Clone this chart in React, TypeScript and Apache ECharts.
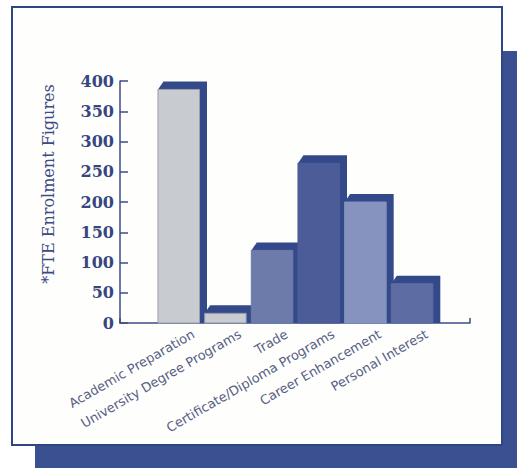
import React, { useEffect, useRef } from "react";
import * as echarts from "echarts";

// Program areas and their FTE enrolment counts
const categories: string[] = [
  "Academic Preparation",
  "University Degree Programs",
  "Trade",
  "Certificate/Diploma Programs",
  "Career Enhancement",
  "Personal Interest",
];
const enrolment: number[] = [386, 16, 120, 264, 200, 65];
const yTicks: number[] = [0, 50, 100, 150, 200, 250, 300, 350, 400];

// Front-face colours of each bar, plus the dark navy used for the extruded sides
const faceColors = ["#c8ccd0", "#c8ccd0", "#6c7baa", "#4b5c98", "#8593be", "#5d6da3"];
const faceStroke = ["#9aa0a8", "#8f96a6", "#6c7baa", "#4b5c98", "#8593be", "#5d6da3"];
const NAVY = "#34498a";

export default function App() {
  const ref = useRef<HTMLDivElement>(null);

  useEffect(() => {
    if (!ref.current) return;
    const chart = echarts.init(ref.current, null, { renderer: "svg" });

    const yMin = yTicks[0];
    const yMax = yTicks[yTicks.length - 1];
    const top = 81;
    const bottom = 145;

    const option: echarts.EChartsOption = {
      animation: false,
      backgroundColor: "#ffffff",
      graphic: [
        // drop shadow behind the framed panel
        { type: "rect", z: -10, shape: { x: 35, y: 51, width: 482, height: 417 }, style: { fill: "#3a5090" }, silent: true },
        // white panel with navy border
        { type: "rect", z: -9, shape: { x: 12, y: 7, width: 490, height: 438 }, style: { fill: "#fefefd", stroke: "#2f4584", lineWidth: 2 }, silent: true },
      ],
      grid: [
        // axis frame
        { left: 120, right: 47, top, bottom },
        // bars
        { left: 155.4, width: 280, top, bottom },
        // rotated category labels
        { left: 170, width: 280, top, bottom },
      ],
      xAxis: [
        {
          type: "value",
          gridIndex: 0,
          min: 0,
          max: 1,
          interval: 1,
          axisLine: { show: true, lineStyle: { color: "#3c4c86", width: 1.5 } },
          axisTick: { show: true, inside: true, length: 5, lineStyle: { color: "#3c4c86", width: 1.5 } },
          axisLabel: { show: false },
          splitLine: { show: false },
        },
        {
          type: "category",
          gridIndex: 1,
          data: categories,
          axisLine: { show: false },
          axisTick: { show: false },
          axisLabel: { show: false },
        },
        {
          type: "category",
          gridIndex: 2,
          data: categories,
          axisLine: { show: false },
          axisTick: { show: false },
          axisLabel: {
            rotate: 30,
            interval: 0,
            margin: 10,
            color: "#576084",
            fontFamily: "DejaVu Sans",
            fontSize: 13,
          },
        },
      ],
      yAxis: [
        {
          type: "value",
          gridIndex: 0,
          min: yMin,
          max: yMax,
          interval: 50,
          name: "*FTE Enrolment Figures",
          nameLocation: "middle",
          nameGap: 64,
          nameTextStyle: {
            color: "#3b4a82",
            fontFamily: "DejaVu Serif",
            fontSize: 16,
            padding: [0, 0, 0, 36],
          },
          axisLine: { show: true, lineStyle: { color: "#3c4c86", width: 1.5 } },
          axisTick: { show: true, inside: true, length: 8, lineStyle: { color: "#3c4c86", width: 1.5 } },
          axisLabel: { margin: 6, color: "#37467f", fontFamily: "DejaVu Serif", fontSize: 16, fontWeight: "bold" },
          splitLine: { show: false },
        },
        { type: "value", gridIndex: 1, min: yMin, max: yMax, show: false },
        { type: "value", gridIndex: 2, min: yMin, max: yMax, show: false },
      ],
      series: [
        {
          type: "custom",
          xAxisIndex: 1,
          yAxisIndex: 1,
          data: enrolment.map((v, i) => [i, v]),
          encode: { x: 0, y: 1 },
          renderItem: (params: any, api: any) => {
            const idx = api.value(0);
            const topPt = api.coord([idx, api.value(1)]);
            const basePt = api.coord([idx, 0]);
            const w = api.size([1, 0])[0] * 0.89;
            const x0 = topPt[0] - w / 2;
            const x1 = topPt[0] + w / 2;
            const yT = topPt[1];
            const yB = basePt[1];
            const dx = 7.5;
            const dy = 8;
            return {
              type: "group",
              children: [
                {
                  type: "polygon",
                  shape: {
                    points: [
                      [x0, yT],
                      [x0 + 5.5, yT - dy],
                      [x1 + dx, yT - dy],
                      [x1 + dx, yB],
                      [x1, yB],
                    ],
                  },
                  style: { fill: NAVY },
                },
                {
                  type: "rect",
                  shape: { x: x0, y: yT, width: w, height: yB - yT },
                  style: { fill: faceColors[idx], stroke: faceStroke[idx], lineWidth: 1 },
                },
              ],
            };
          },
        },
      ],
    };

    chart.setOption(option);
    return () => chart.dispose();
  }, []);

  return (
    <div
      ref={ref}
      style={{ position: "fixed", left: 0, top: 0, width: 517, height: 468 }}
    />
  );
}
